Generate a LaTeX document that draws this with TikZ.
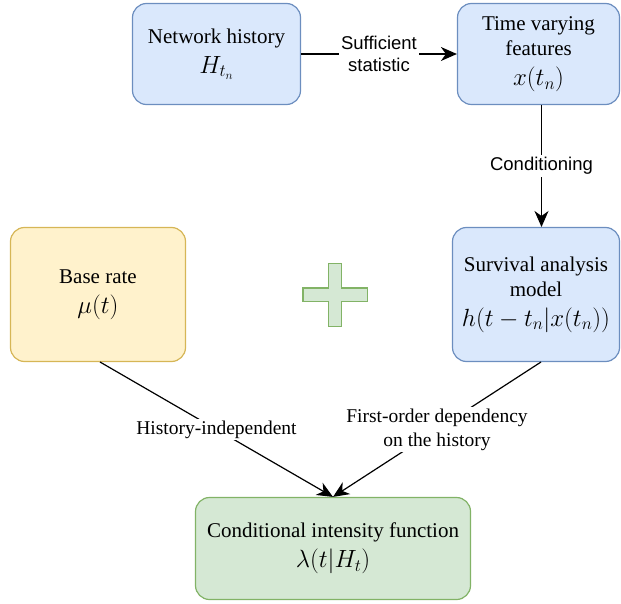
\documentclass[tikz,border=0pt]{standalone}
\usepackage{amsmath}
\usepackage{fontspec}
\setmainfont{Liberation Serif}
\setsansfont{Liberation Sans}
\usetikzlibrary{arrows.meta}

\newcommand{\bigmath}[1]{{\fontsize{24}{27}\selectfont$#1$}}

\begin{document}
\begin{tikzpicture}[x=1pt,y=-1pt,
    box/.style={draw,rounded corners=14pt,line width=1.2pt,align=center,
        inner sep=0pt,font=\fontsize{21}{25}\selectfont},
    bluebox/.style={box,fill=blueF,draw=blueD},
    yellowbox/.style={box,fill=yellowF,draw=yellowD},
    greenbox/.style={box,fill=greenF,draw=greenD},
    conn/.style={line width=1.2pt,-{Stealth[length=16pt,width=14pt,inset=5pt]}},
    sanslabel/.style={fill=white,align=center,inner sep=2pt,
        font=\sffamily\fontsize{18.5}{22}\selectfont},
    seriflabel/.style={fill=white,align=center,inner sep=2pt,
        font=\fontsize{19.5}{24}\selectfont}]
    \definecolor{blueF}{HTML}{DAE8FC}
    \definecolor{blueD}{HTML}{6C8EBF}
    \definecolor{yellowF}{HTML}{FFF2CC}
    \definecolor{yellowD}{HTML}{D6B656}
    \definecolor{greenF}{HTML}{D5E8D4}
    \definecolor{greenD}{HTML}{82B366}
    \useasboundingbox (0,0) rectangle (621,604);

    \node[bluebox,minimum width=168pt,minimum height=101pt] (hist) at (216.5,54)
        {Network history\\[5pt]\bigmath{H_{t_n}}};
    \node[bluebox,minimum width=162pt,minimum height=101pt] (feat) at (538.5,54)
        {Time varying\\features\\[5pt]\bigmath{x(t_n)}};
    \node[yellowbox,minimum width=175pt,minimum height=134pt] (base) at (98,294.5)
        {Base rate\\[5pt]\bigmath{\mu(t)}};
    \node[bluebox,minimum width=167pt,minimum height=134pt] (surv) at (536,294.5)
        {Survival analysis\\model\\[5pt]\bigmath{h(t-t_n|x(t_n))}};
    \node[greenbox,minimum width=275pt,minimum height=102pt] (cif) at (333,548.5)
        {Conditional intensity function\\[5pt]\bigmath{\lambda(t|H_t)}};

    % plus sign
    \draw[fill=greenF,draw=greenD,line width=1.2pt]
        (328.3,263.5) -- (341.7,263.5) -- (341.7,288) -- (367.5,288) -- (367.5,301.5)
        -- (341.7,301.5) -- (341.7,326.5) -- (328.3,326.5) -- (328.3,301.5)
        -- (303,301.5) -- (303,288) -- (328.3,288) -- cycle;

    \draw[conn] (hist) -- node[sanslabel] {Sufficient\\statistic} (feat);
    \draw[conn] (541.5,105) -- node[sanslabel] {Conditioning} (541.5,227);
    \draw[conn] (100,362) -- node[seriflabel] {History-independent} (cif.north);
    \draw[conn] (541,362) -- node[seriflabel] {First-order dependency\\on the history} (cif.north);
\end{tikzpicture}
\end{document}
